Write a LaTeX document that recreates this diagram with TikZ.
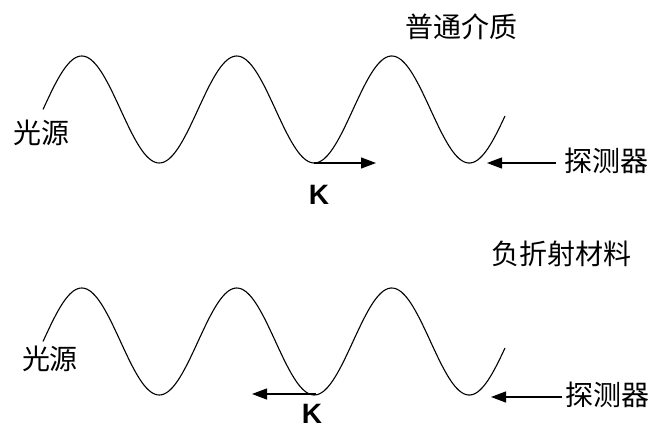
\documentclass[tikz,border=0pt]{standalone}
\usepackage{fontspec}
\setmainfont{Liberation Sans}
\newfontfamily\cjk{Noto Sans CJK SC}
\usetikzlibrary{arrows.meta}
\begin{document}
\begin{tikzpicture}[x=1pt,y=-1pt,
  wave/.style={line width=1.1pt,black},
  kvec/.style={line width=1.2pt,-{Triangle[length=15pt,width=11pt]}},
  lbl/.style={font=\cjk\fontsize{28}{30}\selectfont,inner sep=0pt},
  klbl/.style={font=\bfseries\fontsize{28}{30}\selectfont,inner sep=0pt,anchor=base,text depth=0pt,text height=20pt}]
\useasboundingbox (0,0) rectangle (654,428);
\fill[white] (0,0) rectangle (654,428);
% top wave
\draw[wave] plot[domain=43:505,samples=240] (\x,{109.5-53.5*sin((\x-43)/155*360)});
% bottom wave
\draw[wave] plot[domain=43:505,samples=240] (\x,{341.5-53.5*sin((\x-43)/155*360)});
% labels
\node[lbl] (src1) at (41,133) {光源};
\node[lbl] (src2) at (50,359) {光源};
\node[lbl] (det1) at (606,161) {探测器};
\node[lbl] (det2) at (607,395) {探测器};
\node[lbl] (med1) at (461,27) {普通介质};
\node[lbl] (med2) at (561,254) {负折射材料};
\node[klbl] (k1) at (319,204) {K};
\node[klbl] (k2) at (312,423) {K};
% coordinates
\coordinate (t1) at (314,163);
\coordinate (t1e) at (376,163);
\coordinate (t2) at (316,394);
\coordinate (t2e) at (252,394);
\coordinate (d1) at (556,163);
\coordinate (d1e) at (487,163);
\coordinate (d2) at (562,397);
\coordinate (d2e) at (491,397);
\draw[kvec] (t1) -- (t1e);
\draw[kvec] (t2) -- (t2e);
\draw[kvec] (d1) -- (d1e);
\draw[kvec] (d2) -- (d2e);
\end{tikzpicture}
\end{document}
